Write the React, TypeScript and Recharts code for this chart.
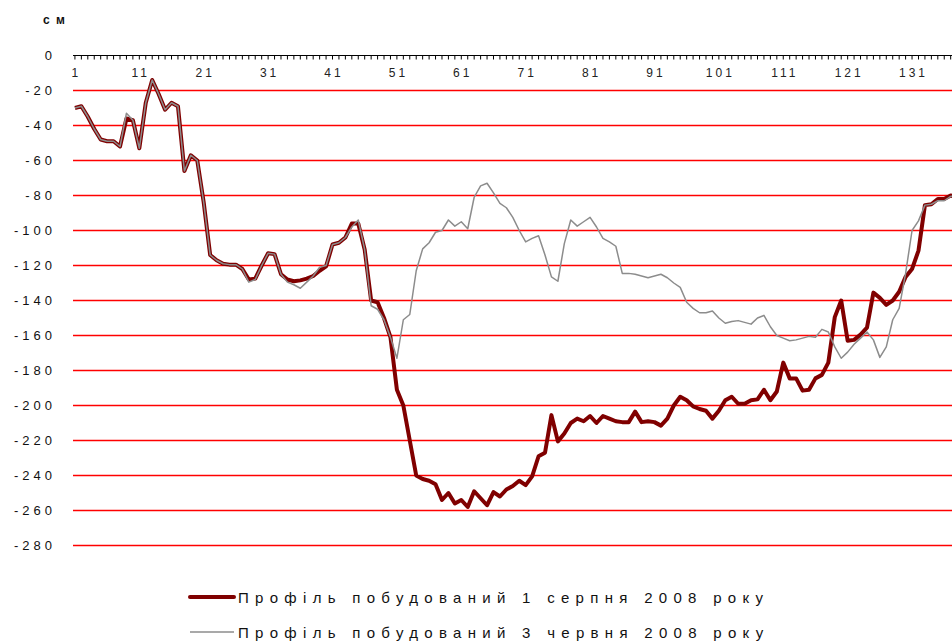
import React from 'react';
import { LineChart, Line, XAxis, YAxis, CartesianGrid, Legend } from 'recharts';

// Profile point numbers (categories)
const pointNumbers: number[] = Array.from({ length: 138 }, (_, i) => i + 1);

// Profile built on 1 August 2008 (cm)
const aug2008: number[] = [
  -30, -29, -35, -42, -48, -49, -49, -52, -36, -37,
  -53, -27, -14, -22, -31, -27, -29, -66, -57, -60,
  -84, -114, -117, -119, -119.5, -119.5, -122, -128, -127.5, -120,
  -113, -113.5, -125, -128, -129, -128.5, -127.5, -126, -123, -120.5,
  -108, -107, -104, -96, -96, -111, -140, -141, -150, -161,
  -191, -200, -220, -240, -242, -243, -245, -254, -250, -256,
  -254, -258, -249, -253, -257, -249.5, -252, -248, -246, -243,
  -245.5, -240.5, -229, -227, -205.5, -220.5, -216, -210, -207.5, -209,
  -206, -210, -206, -207.5, -209, -209.5, -209.5, -203.5, -209.5, -209,
  -209.5, -211.5, -207.5, -200, -195, -197, -200.5, -202, -203, -207.5,
  -203, -197, -195, -199, -199, -197, -196.5, -191, -197, -192,
  -175.5, -184.5, -184.5, -191.5, -191, -184.5, -182.5, -175.5, -149.5, -140,
  -163, -162.5, -159.5, -155.5, -135.5, -138.5, -142.5, -140, -135, -126.5,
  -122, -111.5, -85.5, -85, -82, -82, -80, -81,
];

// Profile built on 3 June 2008 (cm)
const jun2008: number[] = [
  -30, -29, -35, -42, -48, -49, -49, -52, -33, -37,
  -53, -27, -14, -22, -31, -27, -29, -66, -57, -60,
  -84, -114, -117, -119, -119.5, -119.5, -122, -129.5, -128, -120,
  -113, -113.5, -125, -129.5, -131, -133, -129.5, -126, -121, -120,
  -108, -107, -104, -98, -94, -111, -143, -145, -151, -161,
  -173, -151, -148, -123, -110.5, -107, -101, -100, -94, -97.5,
  -95, -99, -81, -74.5, -73, -78.5, -84.5, -87, -92.5, -100,
  -106.5, -104.5, -103, -114, -126.5, -129, -107.5, -94, -97.5, -95,
  -92.5, -98, -104.5, -106.5, -109, -124.5, -124.5, -125, -126, -127,
  -126, -125, -127, -130, -132.5, -141, -144.5, -147, -147, -146,
  -150, -153, -152, -151.5, -152.5, -153.5, -150, -148.5, -155, -160,
  -161.5, -163, -162.5, -161.5, -160.5, -161, -156.5, -158, -166.5, -173,
  -169.5, -165, -161.5, -158, -162.5, -172.5, -166.5, -151, -144.5, -124.5,
  -100, -94.5, -85.5, -85, -83, -83, -80.5, -80,
];

const yTicks: number[] = [0, -20, -40, -60, -80, -100, -120, -140, -160, -180, -200, -220, -240, -260, -280];
const gridValues: number[] = [-20, -40, -60, -80, -100, -120, -140, -160, -180, -200, -220, -240, -260, -280];
const xTickLabels: string[] = ['1', '11', '21', '31', '41', '51', '61', '71', '81', '91', '101', '111', '121', '131'];

const unitLabel = 'с м';
const seriesNames: string[] = [
  'Профіль побудований 1 серпня 2008 року',
  'Профіль побудований 3 червня 2008 року',
];

const data = pointNumbers.map((p, i) => ({ p, aug: aug2008[i], jun: jun2008[i] }));

const FONT = '"Liberation Sans", Arial, sans-serif';
const TOP = 55.5;
const DARK = '#800000';
const GRAY = '#8c8c8c';

const XTick = (props: any) => {
  const { x, payload } = props;
  const v = String(payload.value);
  const showLabel = xTickLabels.includes(v);
  return (
    <g>
      <line x1={x} x2={x} y1={TOP} y2={TOP + 4} stroke="#000" strokeWidth={1} />
      {showLabel && (
        <text
          x={x + 1.5}
          y={TOP + 21}
          textAnchor="middle"
          fontSize={12}
          fill="#222"
          fontFamily={FONT}
          style={{ letterSpacing: 3 }}
        >
          {v}
        </text>
      )}
    </g>
  );
};

const YTick = (props: any) => {
  const { x, y, payload } = props;
  return (
    <text
      x={x}
      y={y}
      dy={4.6}
      textAnchor="end"
      fontSize={13}
      fill="#111"
      fontFamily={FONT}
      style={{ letterSpacing: 4 }}
    >
      {payload.value}
    </text>
  );
};

const LegendContent = () => (
  <svg width={952} height={60} style={{ display: 'block' }}>
    <line x1={190} x2={234} y1={12} y2={12} stroke={DARK} strokeWidth={4} strokeLinecap="round" />
    <text x={238} y={17.5} fontSize={15} fill="#111" fontFamily={FONT} style={{ letterSpacing: 6.3 }}>
      {seriesNames[0]}
    </text>
    <line x1={190} x2={234} y1={47} y2={47} stroke={GRAY} strokeWidth={1.5} />
    <text x={238} y={52.5} fontSize={15} fill="#111" fontFamily={FONT} style={{ letterSpacing: 6.3 }}>
      {seriesNames[1]}
    </text>
  </svg>
);

export default function App() {
  return (
    <div
      style={{
        position: 'absolute',
        left: 0,
        top: 0,
        width: 952,
        height: 641,
        overflow: 'hidden',
        background: '#fff',
      }}
    >
      <svg width={120} height={40} style={{ position: 'absolute', left: 0, top: 0, zIndex: 2 }}>
        <text x={43} y={24} fontSize={12} fontWeight="bold" fill="#111" fontFamily={FONT} style={{ letterSpacing: 1.5 }}>
          {unitLabel}
        </text>
      </svg>
      <LineChart
        width={970}
        height={641}
        data={data}
        margin={{ top: TOP, right: 0, bottom: 95.5, left: 0 }}
      >
        <CartesianGrid
          horizontal={true}
          vertical={false}
          horizontalValues={gridValues}
          stroke="#ff0000"
          strokeWidth={1.6}
        />
        <XAxis
          dataKey="p"
          type="number"
          domain={[0.7, 140]}
          ticks={pointNumbers}
          interval={0}
          orientation="top"
          mirror
          tickLine={false}
          axisLine={{ stroke: '#000', strokeWidth: 1 }}
          tick={<XTick />}
          allowDataOverflow
        />
        <YAxis
          type="number"
          domain={[-280, 0]}
          ticks={yTicks}
          interval={0}
          width={73}
          axisLine={false}
          tickLine={false}
          tickSize={0}
          tickMargin={17}
          tick={<YTick />}
        />
        <Line
          dataKey="aug"
          name={seriesNames[0]}
          type="linear"
          stroke={DARK}
          strokeWidth={4}
          strokeLinejoin="round"
          dot={false}
          activeDot={false}
          isAnimationActive={false}
        />
        <Line
          dataKey="jun"
          name={seriesNames[1]}
          type="linear"
          stroke={GRAY}
          strokeWidth={1.5}
          strokeLinejoin="round"
          dot={false}
          activeDot={false}
          isAnimationActive={false}
        />
        <Legend
          layout="vertical"
          align="center"
          verticalAlign="middle"
          content={<LegendContent />}
          wrapperStyle={{ position: 'absolute', left: 0, top: 585, width: 952, height: 60 }}
        />
      </LineChart>
    </div>
  );
}
